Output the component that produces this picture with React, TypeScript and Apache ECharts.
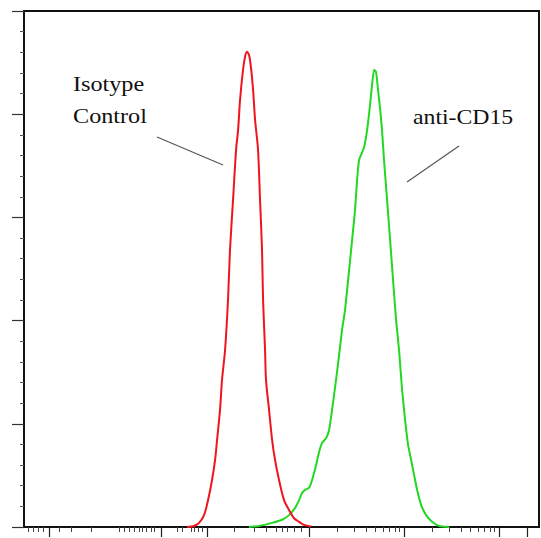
import React, { useEffect, useRef } from "react";
import * as echarts from "echarts";

// x values are in log10 fluorescence units, y values are relative counts (0-100)
const redX = [0.716, 0.789, 0.842, 0.895, 0.937, 0.979, 1.011, 1.032, 1.063, 1.084, 1.116, 1.147, 1.168, 1.2, 1.232, 1.253, 1.274, 1.305, 1.326, 1.347, 1.368, 1.389, 1.411, 1.432, 1.463, 1.484, 1.505, 1.516, 1.537, 1.547, 1.579, 1.611, 1.642, 1.684, 1.737, 1.789, 1.842, 1.895, 1.947, 2.021];
const redY = [0, 0.2, 0.8, 2.3, 5.2, 9.1, 13.0, 16.9, 22.7, 28.5, 34.3, 44.0, 53.7, 63.4, 73.1, 76.9, 82.8, 88.6, 91.1, 92.1, 91.5, 89.0, 84.7, 78.9, 73.1, 63.4, 53.7, 44.0, 34.3, 28.5, 22.7, 16.9, 13.0, 9.1, 5.2, 3.3, 1.7, 1.0, 0.4, 0.1];

const greenX = [1.368, 1.474, 1.611, 1.716, 1.789, 1.853, 1.895, 1.926, 1.958, 2.0, 2.032, 2.074, 2.105, 2.137, 2.179, 2.211, 2.242, 2.284, 2.316, 2.347, 2.379, 2.411, 2.432, 2.453, 2.484, 2.505, 2.526, 2.547, 2.579, 2.611, 2.642, 2.663, 2.684, 2.705, 2.726, 2.747, 2.768, 2.789, 2.821, 2.853, 2.884, 2.916, 2.947, 2.979, 3.011, 3.042, 3.074, 3.105, 3.137, 3.179, 3.232, 3.295, 3.368, 3.474];
const greenY = [0, 0.2, 0.8, 1.4, 2.3, 3.7, 5.2, 6.6, 7.2, 7.6, 9.1, 12.0, 14.5, 16.3, 17.2, 18.8, 22.7, 28.5, 33.3, 38.2, 42.1, 47.9, 51.7, 55.6, 61.4, 67.2, 71.1, 72.1, 73.6, 76.9, 81.8, 85.7, 88.6, 88.2, 84.7, 81.2, 76.9, 71.1, 63.4, 55.6, 47.9, 40.1, 34.3, 26.6, 20.7, 15.9, 13.0, 10.1, 7.2, 4.3, 2.3, 1.0, 0.2, 0];

// axis ticks (log10 units)
const xMajorTicks = [-0.737, 0.442, 0.926, 2, 3, 4, 4.301];
const xMinorTicks = [-0.958, -0.905, -0.853, -0.8, -0.632, -0.505, -0.295, 0, 0.053, 0.105, 0.158, 0.21, 0.242, 0.284, 0.337, 0.368, 0.611, 0.663, 0.758, 0.789, 0.832, 0.874, 1.21, 1.42, 1.547, 1.653, 1.716, 1.768, 1.842, 1.916,
  2.301, 2.477, 2.602, 2.699, 2.778, 2.845, 2.903, 2.954,
  3.301, 3.477, 3.602, 3.699, 3.778, 3.845, 3.903, 3.954];

const labelIsotype = ["Isotype", "Control"];
const labelAnti = "anti-CD15";

const X_MIN = -1;
const X_MAX = 4.42;

export default function App() {
  const ref = useRef<HTMLDivElement>(null);
  useEffect(() => {
    if (!ref.current) return;
    const chart = echarts.init(ref.current, null, { renderer: "svg" });
    const font = '22px "Liberation Serif", "Times New Roman", serif';
    const baseX = {
      type: "value",
      min: X_MIN,
      max: X_MAX,
      position: "bottom",
      axisLabel: { show: false },
      splitLine: { show: false },
    };
    chart.setOption({
      animation: false,
      backgroundColor: "#fff",
      grid: {
        left: 24,
        top: 11,
        right: 2,
        bottom: 11,
        show: true,
        borderColor: "#111",
        borderWidth: 2,
        backgroundColor: "transparent",
      },
      xAxis: [
        {
          ...baseX,
          axisLine: { show: true, onZero: false, lineStyle: { color: "#111", width: 2 } },
          axisTick: { show: true, customValues: xMajorTicks, length: 10, lineStyle: { color: "#222", width: 1.2 } },
        },
        {
          ...baseX,
          axisLine: { show: false, onZero: false },
          axisTick: { show: true, customValues: xMinorTicks, length: 5, lineStyle: { color: "#444", width: 1 } },
        },
      ],
      yAxis: {
        type: "value",
        min: 0,
        max: 100,
        interval: 20,
        axisLabel: { show: false },
        splitLine: { show: false },
        axisLine: { show: true, onZero: false, lineStyle: { color: "#111", width: 2 } },
        axisTick: { show: true, length: 12, lineStyle: { color: "#333", width: 1.2 } },
        minorTick: { show: true, splitNumber: 5, length: 4, lineStyle: { color: "#555", width: 1 } },
      },
      series: [
        {
          type: "line",
          name: "Isotype Control",
          data: redX.map((x, i) => [x, redY[i]]),
          showSymbol: false,
          smooth: 0.3,
          lineStyle: { color: "#f0141e", width: 2 },
          itemStyle: { color: "#f0141e" },
          z: 3,
        },
        {
          type: "line",
          name: "anti-CD15",
          data: greenX.map((x, i) => [x, greenY[i]]),
          showSymbol: false,
          smooth: 0.15,
          lineStyle: { color: "#22d822", width: 2 },
          itemStyle: { color: "#22d822" },
          z: 2,
        },
      ],
      graphic: [
        { type: "text", x: 73, y: 83, scaleX: 1.1, style: { text: labelIsotype[0], font, fill: "#111", verticalAlign: "middle", align: "left" } },
        { type: "text", x: 73, y: 115, scaleX: 1.1, style: { text: labelIsotype[1], font, fill: "#111", verticalAlign: "middle", align: "left" } },
        { type: "text", x: 413, y: 117, scaleX: 1.08, style: { text: labelAnti, font, fill: "#111", verticalAlign: "middle", align: "left" } },
        { type: "line", shape: { x1: 157, y1: 137, x2: 223, y2: 165 }, style: { stroke: "#555", lineWidth: 1.2 } },
        { type: "line", shape: { x1: 459, y1: 146, x2: 407, y2: 182 }, style: { stroke: "#555", lineWidth: 1.2 } },
      ],
    });
    return () => chart.dispose();
  }, []);
  return (
    <div
      ref={ref}
      style={{ position: "fixed", left: 0, top: 0, width: 541, height: 538 }}
    />
  );
}
